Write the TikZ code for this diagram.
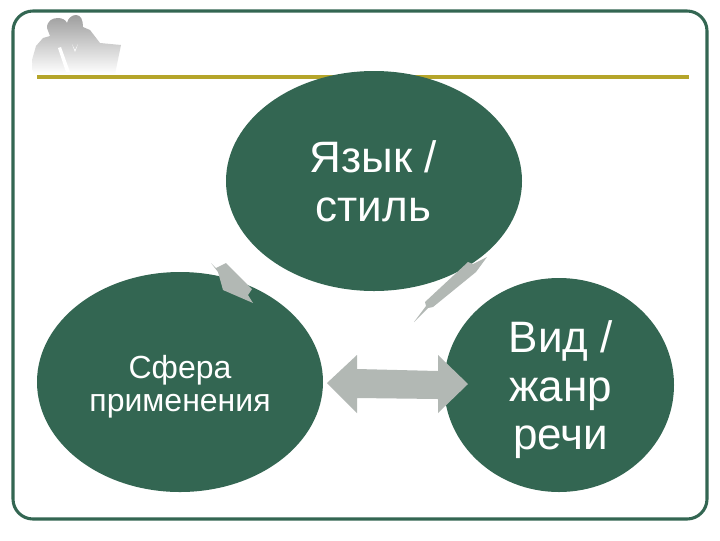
\documentclass[tikz,border=0pt]{standalone}
\usepackage{fontspec}
\setmainfont{Liberation Sans}
\usetikzlibrary{shapes.geometric}
\definecolor{dgreen}{HTML}{336652}
\definecolor{gold}{HTML}{B5A52A}
\definecolor{arrowgray}{HTML}{B2B8B4}
\tikzset{
  blob/.style={ellipse,fill=dgreen,draw=none,inner sep=0pt},
  blobtext/.style={text=white,align=center,inner sep=0pt},
  bigtext/.style={font=\fontsize{33}{37}\selectfont},
  vidtext/.style={font=\fontsize{33}{36.5}\selectfont},
  smalltext/.style={font=\fontsize{24}{24.5}\selectfont},
  blockarrow/.style={fill=arrowgray,draw=none},
  frameline/.style={draw=dgreen,line width=2.3pt,rounded corners=15pt},
  silh/.style={top color=black!38,bottom color=white,draw=none}
}
\begin{document}
\begin{tikzpicture}[x=0.75pt,y=-0.75pt]
\useasboundingbox (0,0) rectangle (720,540);
\fill[white] (0,0) rectangle (720,540);
% frame
\draw[frameline] (13,11) rectangle (707,519);
% silhouette
\shade[silh]
  (33,74) -- (32,60) -- (36,46) -- (43,38) -- (50,36) -- (47,28)
  .. controls (47,21) and (52,18) .. (58,18)
  .. controls (62,18) and (66,20) .. (67,23)
  .. controls (68,18) and (72,15) .. (76,15)
  .. controls (81,15) and (83,20) .. (83,27)
  -- (90,30) -- (100,43) -- (121,45) -- (115,74) -- cycle;
\fill[white] (58,48) -- (61,47) -- (70,72) -- (66,72) -- cycle;
\fill[white] (72,44) -- (75,50) -- (78,44) -- (75,52) -- cycle;
% gold rule
\draw[gold,line width=2.3pt] (37,77) -- (689,77);
% blobs
\node[blob,minimum width=222pt,minimum height=165pt] (lang) at (374,181) {};
\node[blob,minimum width=214.5pt,minimum height=165pt] (sphere) at (180,382) {};
\node[blob,minimum width=172.5pt,minimum height=160.5pt] (genre) at (559,385) {};
\node[blobtext,bigtext] (langtext) at ([xshift=-0.5pt]lang.center) {Язык /\\стиль};
\node[blobtext,smalltext] (spheretext) at ([yshift=-3.7pt]sphere.center) {Сфера\\применения};
\node[blobtext,vidtext] (genretext) at ([xshift=1.3pt,yshift=-3.5pt]genre.center) {Вид /\\жанр\\речи};
% block arrows
\fill[blockarrow] (211,263) -- (216,268) -- (226,263) -- (252,289) -- (248,295) -- (253,303) -- (223,290) -- (218,272) -- cycle;
\fill[blockarrow] (487,257) -- (476,272) -- (433,307) -- (428,308) -- (414,322) -- (426,306) -- (425,302) -- (468,262) -- (473,264) -- cycle;
\fill[blockarrow] (327,383) -- (357,355) -- (357,369) -- (438,371) -- (438,355) -- (468,384) -- (438,413) -- (438,399) -- (357,398) -- (357,413) -- cycle;
\end{tikzpicture}
\end{document}
